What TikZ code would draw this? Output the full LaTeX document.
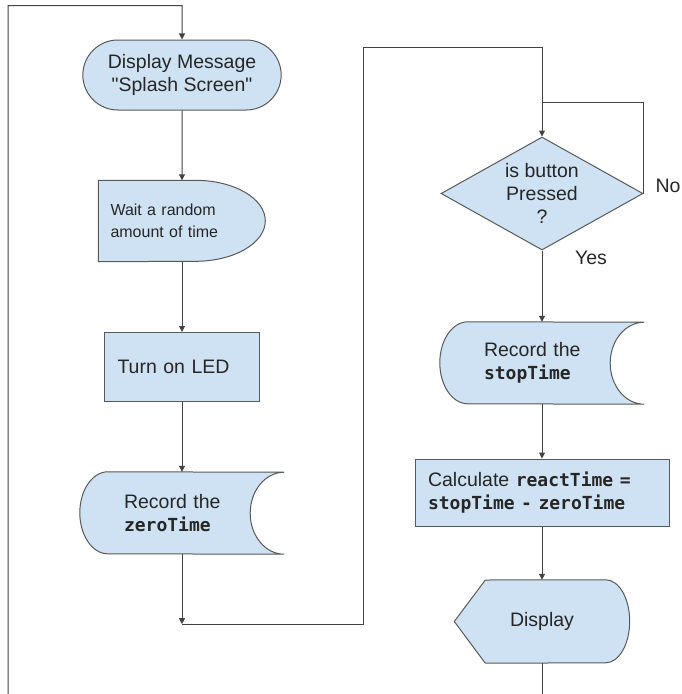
\documentclass[tikz,border=0pt]{standalone}
\usepackage{fontspec}
\setmainfont{Liberation Sans}[Ligatures=TeXOff]
\setmonofont{DejaVu Sans Mono}
\usepackage{tikz}
\usepackage{xcolor}
\usetikzlibrary{backgrounds}
\usetikzlibrary {arrows.meta,positioning,shapes.geometric,shapes.misc}
\definecolor{BoxFill}{HTML}{CFE2F3}
\definecolor{BoxLine}{HTML}{595959}
\definecolor{FlowLineColour}{HTML}{434343}
\definecolor{TextDark}{HTML}{262626}
\newcommand{\MainSize}{\fontsize{19.5pt}{23pt}\selectfont}
\newcommand{\SmallSize}{\fontsize{16pt}{22pt}\selectfont}
\newcommand{\CodeWord}[1]{{\fontsize{18pt}{23pt}\selectfont\ttfamily\bfseries #1}}
\tikzstyle{FlowShape}=[draw=BoxLine,fill=BoxFill,line width=1pt]
\tikzstyle{FlowLine}=[draw=FlowLineColour,line width=1pt]
\tikzstyle{TerminalNode}=[FlowShape,rounded rectangle,minimum width=205pt,minimum height=70pt,align=center]
\tikzstyle{ProcessNode}=[FlowShape,rectangle,align=left,inner xsep=13pt]
\tikzstyle{DecisionNode}=[FlowShape,diamond,aspect=1.79,minimum width=202pt,minimum height=113pt,inner sep=0pt,align=center]
\tikzstyle{DelayNode}=[rectangle,minimum height=81pt,text width=143pt,inner xsep=12pt,align=left,font=\SmallSize]
\tikzstyle{StoredDataNode}=[rectangle,minimum height=82pt,text width=116pt,inner xsep=44pt,align=left]
\tikzstyle{DisplayNode}=[rectangle,minimum width=175pt,minimum height=83pt]

\begin{document}
\begin{tikzpicture}[x=1pt,y=1pt,node distance=146pt,on grid,font=\MainSize,text=TextDark,>={Triangle[length=6pt,width=6pt]}]
  \useasboundingbox (0,0) rectangle (682,-694);

  % left column
  \node[TerminalNode](Display-Message) at (182,-75){Display Message\\"Splash Screen"};
  \node[DelayNode,below=of Display-Message](Wait-Random){Wait a random\\amount of time};
  \node[ProcessNode,text width=129pt,minimum height=69pt,below=of Wait-Random](Turn-On-LED){Turn on LED};
  \node[StoredDataNode,below=of Turn-On-LED](Record-Zero){Record the\\\CodeWord{zeroTime}};

  % right column
  \node[DecisionNode](Is-Pressed) at (542,-193.5){is button\\Pressed\\?};
  \node[StoredDataNode,below=169.5pt of Is-Pressed](Record-Stop){Record the\\\CodeWord{stopTime}};
  \node[ProcessNode,text width=228pt,minimum height=67pt,below=129.5pt of Record-Stop](Calculate-React){Calculate \CodeWord{reactTime =}\\\CodeWord{stopTime - zeroTime}};
  \node[DisplayNode,below=129pt of Calculate-React](Display-Result){Display};

  \node[anchor=west](No-Label) at (652,-186){No};
  \node(Yes-Label) at (591,-258){Yes};

  % outlines of the custom shapes
  \begin{scope}[on background layer]
    \draw[FlowShape] (Wait-Random.north west) -- ++(97,0) arc[start angle=90,end angle=-90,x radius=70,y radius=40.5] -- (Wait-Random.south west) -- cycle;
    \draw[FlowShape] ([xshift=28pt]Record-Zero.north west) arc[start angle=90,end angle=270,x radius=28,y radius=41] -- (Record-Zero.south east) arc[start angle=270,end angle=90,x radius=34,y radius=41] -- cycle;
    \draw[FlowShape] ([xshift=28pt]Record-Stop.north west) arc[start angle=90,end angle=270,x radius=28,y radius=41] -- (Record-Stop.south east) arc[start angle=270,end angle=90,x radius=34,y radius=41] -- cycle;
    \draw[FlowShape] (Display-Result.west) -- ++(31,41.5) -- ([xshift=-24pt]Display-Result.north east) arc[start angle=90,end angle=-90,x radius=24,y radius=41.5] -- ([xshift=31pt]Display-Result.south west) -- cycle;
  \end{scope}

  % bend points
  \coordinate (LoopBottom) at (8,-694);
  \coordinate[above=34pt of Display-Message.north](LoopTop);
  \coordinate[below=70pt of Record-Zero.south](ZeroDrop);
  \coordinate (RiseTop) at (363,-47);
  \coordinate[above=34pt of Is-Pressed.north](NoJoin);
  \coordinate (ExitBottom) at (542,-694);

  \draw[FlowLine,->] (LoopBottom) |- (LoopTop) -- (Display-Message);
  \draw[FlowLine,->] (Display-Message) -- (Wait-Random);
  \draw[FlowLine,->] (Wait-Random) -- (Turn-On-LED);
  \draw[FlowLine,->] (Turn-On-LED) -- (Record-Zero);
  \draw[FlowLine,->] (Record-Zero) -- (ZeroDrop);
  \draw[FlowLine,->] (ZeroDrop) -| (RiseTop) -| (Is-Pressed);
  \draw[FlowLine] (Is-Pressed.east) |- (NoJoin);
  \draw[FlowLine,->] (Is-Pressed) -- (Record-Stop);
  \draw[FlowLine,->] (Record-Stop) -- (Calculate-React);
  \draw[FlowLine,->] (Calculate-React) -- (Display-Result);
  \draw[FlowLine] (Display-Result) -- (ExitBottom);

\end{tikzpicture}
\end{document}
